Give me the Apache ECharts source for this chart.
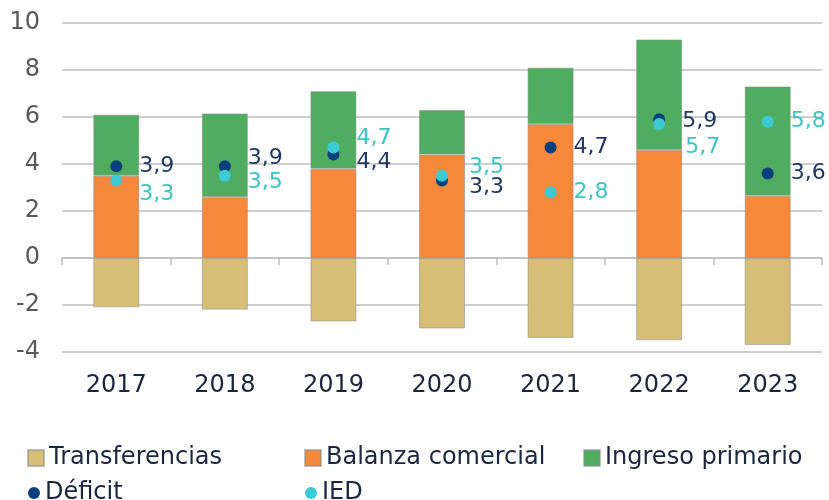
<!DOCTYPE html>
<html>
<head>
<meta charset="utf-8">
<script src="https://cdn.jsdelivr.net/npm/echarts@6/dist/echarts.min.js"></script>
<style>
  html, body { margin: 0; padding: 0; background: #fff; }
  #chart { width: 829px; height: 500px; }
</style>
</head>
<body>
<div id="chart"></div>
<script>
// data
var years = ['2017', '2018', '2019', '2020', '2021', '2022', '2023']
var transferencias = [-2.1, -2.2, -2.7, -3.0, -3.4, -3.5, -3.7]
var balanza = [3.5, 2.6, 3.8, 4.4, 5.7, 4.6, 2.65]
var ingreso = [2.6, 3.55, 3.3, 1.9, 2.4, 4.7, 4.65]
var deficit = [3.9, 3.9, 4.4, 3.3, 4.7, 5.9, 3.6]
var ied = [3.3, 3.5, 4.7, 3.5, 2.8, 5.7, 5.8]
var yTicks = [-4, -2, 0, 2, 4, 6, 8, 10]

// label nudges [dx, dy] so labels don't collide
var deficitLabelShift = [[0, 0], [0, -8], [0, 8], [4, 7], [0, 0], [0, 2], [0, 0]]
var iedLabelShift = [[0, 14], [0, 7], [0, -9], [4, -8], [0, 0], [3, 23], [0, 0]]

var font = 'DejaVu Sans'
var textColor = '#1c2540'
var gridColor = '#bfbfbf'

function fmt(p) {
  return p.value.toFixed(1).replace('.', ',')
}

function withShift(values, shifts) {
  return values.map(function (v, i) {
    return { value: v, label: { offset: shifts[i] } }
  })
}

function barSeries(name, data, color) {
  return {
    name: name,
    type: 'bar',
    stack: 'total',
    barWidth: 46,
    data: data,
    itemStyle: {
      color: color,
      borderColor: 'rgba(140,140,140,0.55)',
      borderWidth: 1
    }
  }
}

function dotSeries(name, data, color, labelColor) {
  return {
    name: name,
    type: 'scatter',
    symbolSize: 12,
    z: 5,
    data: data,
    itemStyle: { color: color, opacity: 1 },
    label: {
      show: true,
      position: 'right',
      distance: 17,
      color: labelColor,
      fontFamily: font,
      fontSize: 22,
      formatter: fmt
    }
  }
}

function legendAt(name, left, top, icon, size) {
  return {
    data: [{ name: name, icon: icon }],
    left: left,
    top: top,
    itemWidth: size,
    itemHeight: size,
    padding: 0,
    selectedMode: false,
    textStyle: { color: textColor, fontFamily: font, fontSize: 24 }
  }
}

var chart = echarts.init(document.getElementById('chart'))
chart.setOption({
  animation: false,
  grid: { left: 62, right: 7, top: 23, bottom: 148 },
  legend: [
    legendAt('Transferencias', 27, 446, 'rect', 16),
    legendAt('Balanza comercial', 304, 446, 'rect', 16),
    legendAt('Ingreso primario', 583, 446, 'rect', 16),
    legendAt('Déficit', 28, 481, 'circle', 12),
    legendAt('IED', 305, 481, 'circle', 12)
  ],
  xAxis: [{
    type: 'category',
    data: years,
    position: 'bottom',
    axisLine: { show: false, onZero: false },
    axisTick: { show: false },
    axisLabel: { color: textColor, fontFamily: font, fontSize: 24, margin: 22 }
  }, {
    type: 'category',
    data: years,
    position: 'bottom',
    axisLine: { show: true, onZero: true, lineStyle: { color: gridColor, width: 1.5 } },
    axisTick: { show: true, length: 7, lineStyle: { color: gridColor, width: 1.5 } },
    axisLabel: { show: false }
  }],
  yAxis: {
    type: 'value',
    min: yTicks[0],
    max: yTicks[yTicks.length - 1],
    interval: 2,
    axisLine: { show: false },
    axisTick: { show: false },
    axisLabel: { color: '#595959', fontFamily: font, fontSize: 24, margin: 22 },
    splitLine: { lineStyle: { color: gridColor, width: 1.5 } }
  },
  series: [
    barSeries('Transferencias', transferencias, '#d6be76'),
    barSeries('Balanza comercial', balanza, '#f5883a'),
    barSeries('Ingreso primario', ingreso, '#4ead5f'),
    dotSeries('Déficit', withShift(deficit, deficitLabelShift), '#0b3f7f', '#1f3864'),
    dotSeries('IED', withShift(ied, iedLabelShift), '#3ccbd4', '#3cc4c4')
  ]
})
</script>
</body>
</html>
